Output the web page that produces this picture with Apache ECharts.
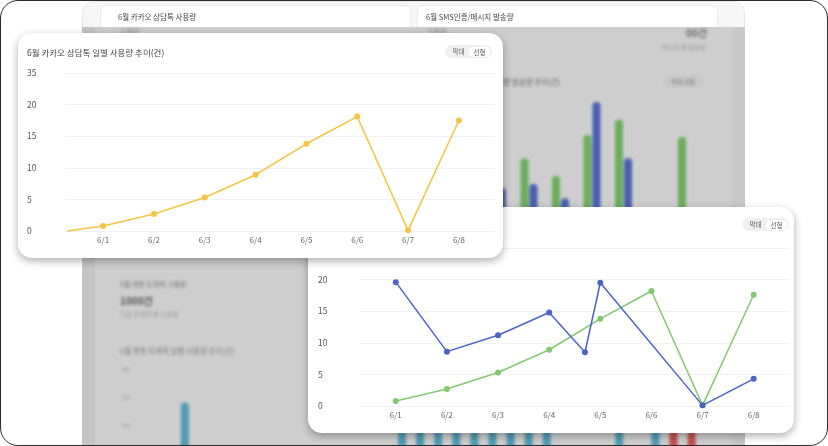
<!DOCTYPE html>
<html>
<head>
<meta charset="utf-8">
<script src="https://cdn.jsdelivr.net/npm/echarts@6/dist/echarts.min.js"></script>
<style>
html, body { margin: 0; padding: 0; background: #fff; }
body { width: 828px; height: 446px; overflow: hidden; font-family: "Noto Sans CJK KR", "Noto Sans", sans-serif; }
.abs { position: absolute; }
#frame { position: absolute; left: 0; top: 0; width: 828px; height: 446px; border-radius: 18px; overflow: hidden; background: #fff; }
#border { position: absolute; left: 0; top: 0; width: 828px; height: 446px; box-sizing: border-box; border: 1.5px solid #2b2b2b; border-radius: 18px; z-index: 50; pointer-events: none; }
#panel { left: 82px; top: 1px; width: 663px; height: 460px; background: #f6f6f6; border-radius: 12px 12px 0 0; border: 1px solid #e6e6e6; box-sizing: border-box; }
.topcard { background: #fff; border: 1px solid #ebebeb; border-radius: 6px; box-sizing: border-box; }
.toptxt { font-size: 7.5px; color: #444; line-height: 12px; white-space: nowrap; filter: blur(0.3px); }
#dim { left: 82px; top: 27px; width: 663px; height: 419px; background: #cecece; overflow: hidden; }
#blur { left: -82px; top: -27px; width: 828px; height: 446px; filter: blur(1.4px); }
.bt { white-space: nowrap; line-height: 12px; }
.card { background: #fff; border-radius: 14px; box-shadow: 0 3px 8px rgba(0,0,0,0.32); }
.ctitle { font-size: 8.5px; color: #444; line-height: 12px; white-space: nowrap; }
.toggle { width: 47px; height: 13px; border-radius: 7px; background: #f0f0f0; font-size: 6.5px; color: #555; line-height: 13px; }
.toggle .a { position: absolute; left: 4px; top: 0; width: 19px; text-align: center; }
.toggle .b { position: absolute; right: 2px; top: 1.5px; width: 21px; height: 10px; line-height: 10px; border-radius: 5px; background: #fff; text-align: center; }
</style>
</head>
<body>
<div id="frame">
  <div id="panel" class="abs"></div>
  <div class="abs topcard" style="left:100px;top:5px;width:311px;height:40px;"></div>
  <div class="abs topcard" style="left:417px;top:5px;width:301px;height:40px;"></div>
  <div class="abs toptxt" style="left:118px;top:11px;">6월 카카오 상담톡 사용량</div>
  <div class="abs toptxt" style="left:426px;top:11px;">6월 SMS인증/메시지 발송량</div>

  <div id="dim" class="abs">
    <div class="abs" style="left:0;top:0;width:13px;height:419px;background:#c4c4c4;"></div>
    <div class="abs" style="left:650px;top:0;width:13px;height:419px;background:#c8c8c8;"></div>
    <div id="blur" class="abs">
      <div class="abs bt" style="left:120px;top:25px;font-size:7px;color:#888;">사용량</div>
      <div class="abs bt" style="left:427px;top:25px;font-size:7px;color:#888;">사용량</div>
      <div class="abs bt" style="right:121px;top:27px;font-size:10px;font-weight:bold;color:#666;">00건</div>
      <div class="abs bt" style="right:122px;top:41px;font-size:6.5px;color:#999;">메시지 총 발송량</div>
      <div class="abs bt" style="right:268px;top:76px;font-size:7.5px;color:#666;">6월 SMS인증/메시지 일별 발송량 추이(건)</div>
      <div class="abs bt" style="left:664px;top:76px;width:38px;height:11px;line-height:11px;border-radius:6px;background:#c6c6c6;font-size:6px;color:#777;text-align:center;">막대 선형</div>
      <div class="abs bt" style="left:120px;top:278px;font-size:7px;color:#777;">6월 챗봇 트래픽 사용량</div>
      <div class="abs bt" style="left:120px;top:295px;font-size:10px;font-weight:bold;color:#555;">1000건</div>
      <div class="abs bt" style="left:120px;top:308px;font-size:6.5px;color:#999;">기본 트래픽 총 사용량</div>
      <div class="abs bt" style="left:120px;top:345px;font-size:7.5px;color:#777;">6월 챗봇 트래픽 일별 사용량 추이(건)</div>
      <div id="bgBars" class="abs" style="left:420px;top:60px;width:300px;height:180px;"></div>
      <div id="bgTeal" class="abs" style="left:100px;top:340px;width:630px;height:180px;"></div>
    </div>
  </div>

  <div id="card2" class="abs card" style="left:308px;top:207px;width:486px;height:226px;">
    <div id="chart2" class="abs" style="left:0;top:0;width:486px;height:226px;"></div>
    <div class="abs ctitle" style="left:9px;top:13px;">6월 SMS인증/메시지 일별 발송량 추이(건)</div>
    <div class="abs toggle" style="left:434px;top:11px;"><span class="a">막대</span><span class="b">선형</span></div>
  </div>

  <div id="card1" class="abs card" style="left:18px;top:33px;width:485px;height:225px;">
    <div id="chart1" class="abs" style="left:0;top:0;width:485px;height:225px;"></div>
    <div class="abs ctitle" style="left:9px;top:13px;">6월 카카오 상담톡 일별 사용량 추이(건)</div>
    <div class="abs toggle" style="left:427px;top:12px;"><span class="a">막대</span><span class="b">선형</span></div>
  </div>
</div>
<div id="border"></div>

<script>
// x labels shared by every chart
var days = ['6/1', '6/2', '6/3', '6/4', '6/5', '6/6', '6/7', '6/8'];
var yTickLabels = ['0', '5', '10', '15', '20', '35'];

// kakao (yellow) - first point is the lead-in at the left edge of the grid
var kakaoX = [-0.7, 0, 1, 2, 3, 4, 5, 6, 7];
var kakaoVals = [0, 0.8, 2.7, 5.3, 8.9, 13.8, 18.1, 0.1, 17.5];

// sms card: green + blue
var smsX = [0, 1, 2, 3, 4, 5, 6, 7];
var smsVals = [0.8, 2.7, 5.3, 8.9, 13.8, 18.2, 0.1, 17.6];
var msgX = [0, 1, 2, 3, 3.7, 4, 6, 7];
var msgVals = [19.6, 8.6, 11.2, 14.8, 8.5, 19.5, 0.1, 4.3];

// blurred background bar chart (sms)
var bgGreen = [12, 9, 13.3, 10, 17.6, 20.4, 3, 17.2];
var bgBlue = [6, 7.8, 8.5, 5.9, 23.7, 13.3, 2, 2];

// blurred background bar chart (chatbot)
var botDays = ['1', '2', '3', '4', '5', '6', '7', '8', '9', '10', '11', '12', '13', '14', '15',
    '16', '17', '18', '19', '20', '21', '22', '23', '24', '25', '26', '27', '28', '29'];
var botTeal = [19, 7, 5, 8, 6, 9, 4, 7, 8, 5, 6, 9, 16, 18, 15, 17, 14, 16, 18, 15, 17, 6, 8, 5, 15, 7, 16, null, null];
var botRed = [null, null, null, null, null, null, null, null, null, null, null, null, null, null, null,
    null, null, null, null, null, null, null, null, null, null, null, null, 15, 14];

var FONT = '"Noto Sans CJK KR", "Noto Sans", sans-serif';
var YELLOW = '#f6c445';
var GREEN = '#84c970';
var BLUE = '#4b63c4';

function points(xs, ys, leadIn) {
    return xs.map(function(x, i) {
        var item = { value: [x, ys[i]] };
        if (leadIn && i === 0) item.symbol = 'none';
        return item;
    });
}

function lineSeries(data, color) {
    return {
        type: 'line',
        data: data,
        symbol: 'circle',
        symbolSize: 6,
        clip: false,
        lineStyle: { width: 1.5, color: color },
        itemStyle: { color: color }
    };
}

function lineOption(o) {
    return {
        animation: false,
        textStyle: { fontFamily: FONT },
        grid: { left: o.left, right: o.right, top: o.top, bottom: o.bottom },
        xAxis: {
            type: 'value',
            min: o.xMin,
            max: o.xMax,
            axisLine: { show: false },
            axisTick: { show: false },
            splitLine: { show: false },
            axisLabel: {
                customValues: days.map(function(d, i) { return i; }),
                formatter: function(v) { return days[Math.round(v)] || ''; },
                color: '#666',
                fontSize: 8,
                fontFamily: FONT,
                margin: 5
            }
        },
        yAxis: {
            type: 'value',
            min: 0,
            max: 25,
            interval: 5,
            axisLine: { show: false },
            axisTick: { show: false },
            splitLine: { lineStyle: { color: '#f1f1f1', width: 1 } },
            axisLabel: {
                formatter: function(v) { return yTickLabels[Math.round(v / 5)]; },
                align: 'left',
                margin: o.labelMargin,
                color: '#555',
                fontSize: 8.5,
                fontFamily: FONT
            }
        },
        series: o.series
    };
}

var chart1 = echarts.init(document.getElementById('chart1'), null, { renderer: 'canvas' });
chart1.setOption(lineOption({
    left: 47, right: 8, top: 40, bottom: 27,
    xMin: -0.75, xMax: 7.71, labelMargin: 38,
    series: [lineSeries(points(kakaoX, kakaoVals, true), YELLOW)]
}));

var chart2 = echarts.init(document.getElementById('chart2'), null, { renderer: 'canvas' });
chart2.setOption(lineOption({
    left: 52, right: 4, top: 41, bottom: 27,
    xMin: -0.7, xMax: 7.71, labelMargin: 42,
    series: [
        lineSeries(points(smsX, smsVals, false), GREEN),
        lineSeries(points(msgX, msgVals, false), BLUE)
    ]
}));

var bgBars = echarts.init(document.getElementById('bgBars'));
bgBars.setOption({
    animation: false,
    grid: { left: 30.25, right: 17.75, top: 35, bottom: 10 },
    xAxis: { type: 'category', data: days, show: false },
    yAxis: { type: 'value', min: 0, max: 25, show: false },
    series: [
        { type: 'bar', data: bgGreen, barWidth: 8, barGap: '12.5%', itemStyle: { color: '#6cad5c', borderRadius: [4, 4, 0, 0] } },
        { type: 'bar', data: bgBlue, barWidth: 8, itemStyle: { color: '#4a5fb1', borderRadius: [4, 4, 0, 0] } }
    ]
});

var bgTeal = echarts.init(document.getElementById('bgTeal'));
bgTeal.setOption({
    animation: false,
    grid: { left: 75.75, right: 29.35, top: 29, bottom: 11 },
    xAxis: { type: 'category', data: botDays, show: false },
    yAxis: {
        type: 'value', min: 0, max: 25, interval: 5,
        axisLine: { show: false }, axisTick: { show: false }, splitLine: { show: false },
        axisLabel: { align: 'left', margin: 53.75, color: '#999', fontSize: 7, fontFamily: FONT }
    },
    series: [
        { type: 'bar', data: botTeal, barWidth: 8, barGap: '-100%', itemStyle: { color: '#4f9cb4', borderRadius: [4, 4, 0, 0] } },
        { type: 'bar', data: botRed, barWidth: 8, itemStyle: { color: '#c4504e', borderRadius: [4, 4, 0, 0] } }
    ]
});
</script>
</body>
</html>
